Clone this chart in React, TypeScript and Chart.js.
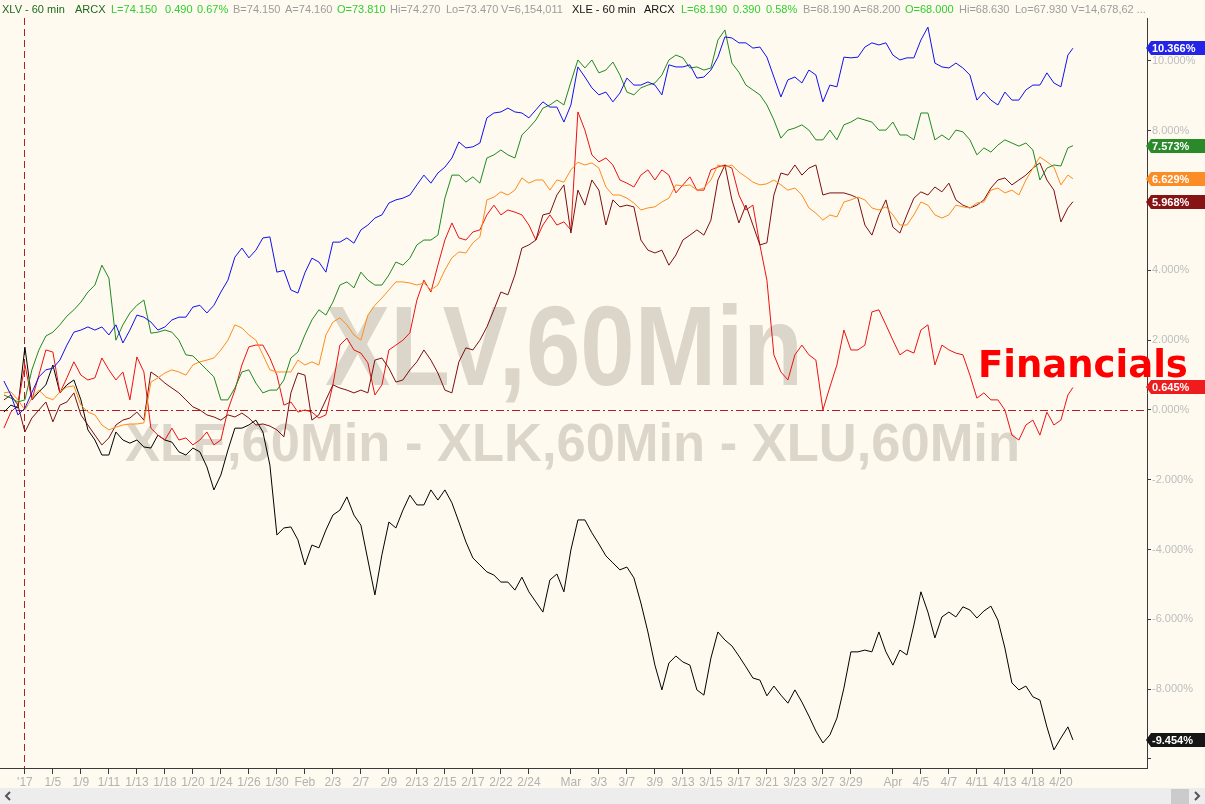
import React, { useEffect, useRef } from "react";
import { Chart, registerables } from "chart.js";

Chart.register(...registerables);

// ---------- time axis (trading-day index, Jan 3 2017 = 0) ----------
const START_DAY = -1.5;
const STEP_DAY = 0.5;
const SAMPLE_COUNT = 153;
const LAST_DAY = 74.86;
const sessionDays: number[] = Array.from({ length: SAMPLE_COUNT }, (_, k) => START_DAY + STEP_DAY * k).concat([LAST_DAY]);

const tickDays = [0, 2, 4, 6, 8, 10, 12, 14, 16, 18, 20, 22, 24, 26, 28, 30, 32, 34, 36, 39, 41, 43, 45, 47, 49, 51, 53, 55, 57, 59, 62, 64, 66, 68, 70, 72, 74];
const tickLabels = ["'17", "1/5", "1/9", "1/11", "1/13", "1/18", "1/20", "1/24", "1/26", "1/30", "Feb", "2/3", "2/7", "2/9", "2/13", "2/15", "2/17", "2/22", "2/24", "Mar", "3/3", "3/7", "3/9", "3/13", "3/15", "3/17", "3/21", "3/23", "3/27", "3/29", "Apr", "4/5", "4/7", "4/11", "4/13", "4/18", "4/20"];
const yTickValues = [-10, -8, -6, -4, -2, 0, 2, 4, 6, 8, 10];
const yearStartDay = -0.08;

// ---------- series (% change) ----------
const xlkBlue = [0.83, 0.43, -0.14, 0.05, 0.5, 0.95, 1.15, 1.2, 1.43, 1.86, 2.23, 2.29, 2.38, 2.29, 2.38, 2.15, 2.44, 1.92, 2.29, 2.72, 2.66, 2.52, 2.29, 2.38, 2.58, 2.66, 2.66, 2.95, 3.0, 2.78, 3.0, 3.38, 3.72, 4.38, 4.64, 4.36, 4.58, 4.93, 4.96, 3.95, 4.0, 3.44, 3.35, 3.93, 4.35, 4.24, 3.95, 4.81, 4.81, 4.93, 4.78, 5.16, 5.3, 5.5, 5.59, 5.93, 6.02, 6.07, 6.16, 6.45, 6.73, 6.5, 6.79, 6.96, 7.22, 7.68, 7.51, 7.54, 7.65, 8.37, 8.51, 8.54, 8.65, 8.54, 8.51, 8.37, 8.6, 8.83, 8.68, 8.68, 8.25, 8.74, 9.83, 9.54, 9.23, 9.03, 9.11, 8.83, 9.08, 9.51, 9.31, 9.31, 9.4, 9.31, 9.03, 9.89, 9.83, 9.83, 9.89, 9.51, 9.54, 9.74, 10.11, 10.69, 10.66, 10.52, 10.52, 10.37, 10.4, 10.11, 9.54, 8.97, 9.46, 9.54, 9.37, 9.74, 9.6, 8.83, 9.31, 9.26, 10.11, 10.09, 10.11, 10.4, 10.52, 10.46, 10.52, 10.17, 10.03, 10.09, 10.09, 10.6, 10.97, 9.94, 9.83, 9.8, 9.94, 9.8, 9.6, 8.88, 9.11, 8.88, 8.74, 9.11, 8.88, 8.88, 9.17, 9.31, 9.31, 9.66, 9.37, 9.26, 10.17, 10.366];
const xlvGreen = [0.43, 0.34, 0.23, 0.29, 1.15, 1.72, 2.12, 2.23, 2.44, 2.69, 2.87, 3.09, 3.38, 3.58, 4.15, 3.78, 2.0, 2.44, 2.78, 3.0, 3.15, 2.2, 2.23, 2.29, 2.23, 2.0, 1.58, 1.55, 1.35, 1.15, 0.95, 0.29, 0.29, 0.63, 1.09, 1.15, 0.77, 0.49, 0.57, 0.57, 0.86, 1.49, 1.66, 2.15, 2.58, 2.87, 2.72, 3.09, 3.58, 3.67, 3.5, 3.95, 3.72, 3.58, 3.58, 3.87, 4.24, 4.15, 4.35, 4.73, 4.87, 4.87, 5.01, 6.07, 6.73, 6.73, 6.53, 6.68, 6.5, 7.22, 7.31, 7.45, 7.31, 7.22, 7.88, 8.08, 8.31, 8.65, 8.74, 8.88, 8.74, 9.4, 10.03, 9.8, 10.03, 9.66, 9.74, 9.97, 9.6, 9.11, 9.03, 9.23, 9.31, 9.37, 9.6, 10.03, 10.17, 10.09, 9.8, 9.83, 9.74, 9.8, 10.6, 10.89, 9.94, 9.68, 9.31, 9.17, 9.03, 8.74, 8.31, 7.79, 8.02, 8.08, 8.17, 8.02, 7.74, 7.74, 8.02, 7.74, 8.17, 8.25, 8.37, 8.31, 8.25, 8.02, 8.02, 8.25, 7.88, 7.88, 7.74, 8.51, 8.51, 7.74, 7.88, 7.74, 8.02, 7.97, 7.74, 7.31, 7.51, 7.39, 7.59, 7.74, 7.65, 7.56, 7.65, 7.45, 6.59, 6.93, 7.02, 6.99, 7.51, 7.573];
const xluOrange = [0.49, 0.52, 0.29, 0, 0.34, 0.57, 0.37, 0.29, 0.52, 0.66, 0.69, 0.14, -0.06, -0.14, -0.43, -0.57, -0.49, -0.43, -0.4, -0.4, -0.37, 0.8, 0.92, 1.06, 1.15, 1.09, 1.0, 1.29, 1.38, 1.43, 1.49, 1.72, 2.0, 2.44, 2.35, 2.15, 2.0, 1.58, 1.15, 1.09, 1.09, 1.09, 1.43, 1.29, 1.38, 1.29, 2.15, 2.52, 2.64, 2.44, 2.15, 2.0, 2.72, 3.0, 3.21, 3.44, 3.67, 3.67, 3.64, 3.58, 3.64, 3.44, 3.58, 4.01, 4.36, 4.53, 4.5, 4.79, 4.96, 6.02, 6.1, 6.25, 6.16, 6.3, 6.65, 6.5, 6.59, 6.59, 6.3, 6.59, 6.53, 6.88, 7.1, 7.02, 7.08, 6.93, 6.39, 6.16, 6.16, 6.07, 5.93, 5.73, 5.79, 5.82, 5.96, 6.07, 6.45, 6.42, 6.45, 6.3, 6.36, 6.59, 7.02, 6.96, 7.02, 6.82, 6.68, 6.53, 6.45, 6.48, 6.59, 6.45, 6.3, 6.36, 6.16, 5.79, 5.64, 5.44, 5.59, 5.53, 5.96, 6.02, 6.1, 6.02, 5.79, 5.73, 5.82, 5.59, 5.3, 5.3, 5.59, 5.96, 5.87, 5.59, 5.5, 5.59, 5.87, 5.82, 5.79, 5.93, 5.96, 6.3, 6.36, 6.22, 6.3, 6.16, 6.59, 6.93, 7.25, 7.11, 6.96, 6.45, 6.73, 6.629];
const xliMaroon = [0.29, 0.43, 0.14, -0.63, -0.23, 0, 0.23, -0.34, 0.14, 0.23, 0.49, -0.14, -0.43, -0.72, -1.0, -0.8, -0.43, -0.29, -0.23, -0.06, -0.29, 1.09, 0.95, 0.77, 0.63, 0.49, 0.29, 0.09, 0, -0.14, -0.2, -0.29, -0.14, -0.2, -0.09, -0.23, -0.43, -0.4, -0.46, -0.57, -0.77, 0.49, 1.06, 1.0, -0.29, -0.14, 0.29, 0.72, 0.63, 0.57, 0.49, 0.57, 0.49, 1.43, 1.49, 1.2, 0.8, 0.86, 1.15, 1.38, 1.72, 1.43, 1.06, 0.57, 0.49, 1.38, 1.78, 1.72, 2.0, 2.38, 2.87, 3.38, 3.3, 3.87, 4.64, 4.73, 4.87, 5.59, 5.64, 6.16, 6.45, 5.07, 6.3, 5.87, 6.59, 6.3, 5.3, 6.02, 5.82, 5.87, 5.82, 4.87, 4.58, 4.5, 4.58, 4.15, 4.44, 4.87, 5.01, 5.16, 5.01, 5.44, 6.59, 7.02, 6.02, 5.36, 5.87, 5.3, 4.73, 4.79, 6.16, 6.79, 6.73, 7.02, 6.73, 6.93, 7.02, 6.16, 6.22, 6.22, 6.22, 6.16, 6.07, 5.3, 5.01, 5.59, 6.02, 5.24, 5.07, 5.59, 6.07, 6.25, 6.16, 6.39, 6.25, 6.5, 6.02, 5.87, 5.79, 5.87, 6.02, 6.36, 6.59, 6.65, 6.45, 6.59, 6.73, 6.93, 7.08, 6.59, 6.3, 5.39, 5.79, 5.968];
const xlfRed = [-0.52, -0.06, 0.14, 1.3, 0.29, 1.0, 1.72, 1.66, 0.49, 0.92, 1.38, 1.0, 0.86, 0.92, 1.49, 1.15, 0.86, 1.09, 0.29, 1.52, 1.09, -0.52, -0.72, -0.86, -0.52, -0.86, -0.8, -1.0, -0.86, -0.63, -1.0, -0.86, 0, 0.57, 1.29, 1.81, 1.86, 1.86, 1.49, 1.0, 0.14, 0.23, -0.06, 0, -0.06, -0.23, -0.14, 0.72, 1.86, 2.06, 1.72, 1.63, 1.35, 0.43, 0.72, 1.72, 1.86, 2.0, 2.21, 3.15, 3.72, 3.38, 4.15, 4.87, 5.36, 4.93, 4.87, 5.1, 5.16, 5.59, 5.87, 5.59, 5.73, 5.67, 5.59, 5.3, 4.87, 5.3, 5.59, 5.3, 5.39, 5.16, 8.54, 8.02, 7.31, 7.11, 7.22, 7.02, 6.59, 6.5, 6.39, 6.73, 6.88, 6.59, 6.88, 6.73, 6.22, 6.45, 6.68, 6.3, 6.3, 6.88, 6.96, 7.02, 6.93, 6.16, 5.73, 5.87, 4.73, 3.72, 1.58, 1.09, 0.86, 1.58, 1.86, 1.58, 1.43, 0.0, 0.66, 1.29, 2.29, 1.72, 1.72, 1.86, 2.81, 2.87, 2.44, 2.0, 1.58, 1.72, 1.63, 2.29, 2.44, 1.29, 1.86, 1.72, 1.63, 1.58, 1.0, 0.34, 0.49, 0.29, 0.29, 0, -0.72, -0.86, -0.43, -0.29, -0.72, -0.06, -0.43, -0.29, 0.43, 0.645];
const xleBlack = [-0.06, 0.14, 0.06, 1.8, 0.29, 0.52, 0.72, 1.29, 0.49, 0.72, 0.86, 0.29, -0.57, -0.86, -1.29, -1.29, -0.63, -0.86, -0.95, -0.86, -1.06, -1.09, -0.72, -0.86, -0.92, -1.2, -1.29, -1.09, -1.2, -1.63, -2.29, -1.86, -1.15, -0.52, -0.52, -0.43, -0.29, -0.63, -1.58, -3.58, -3.38, -3.35, -3.72, -4.44, -3.87, -3.95, -3.44, -3.01, -2.87, -2.49, -3.01, -3.3, -4.3, -5.3, -4.15, -3.21, -3.38, -2.87, -2.44, -2.72, -2.72, -2.29, -2.58, -2.29, -2.66, -3.21, -3.78, -4.24, -4.44, -4.64, -4.73, -4.93, -4.93, -5.16, -4.79, -5.21, -5.5, -5.79, -4.87, -4.7, -5.21, -4.01, -3.15, -3.15, -3.52, -3.84, -4.18, -4.38, -4.58, -4.5, -4.81, -5.53, -6.36, -7.31, -8.02, -7.25, -7.05, -7.22, -7.31, -8.02, -8.17, -7.11, -6.36, -6.59, -6.76, -7.05, -7.36, -7.68, -7.74, -8.19, -7.91, -8.17, -8.4, -8.02, -8.37, -8.77, -9.2, -9.54, -9.31, -8.83, -7.97, -6.93, -6.93, -6.88, -6.93, -6.36, -6.93, -7.31, -6.88, -7.02, -6.16, -5.21, -5.79, -6.53, -5.93, -5.79, -5.93, -5.64, -5.73, -5.96, -5.76, -5.62, -6.02, -6.82, -7.82, -8.02, -7.91, -8.22, -8.31, -9.08, -9.74, -9.4, -9.08, -9.454];

const seriesNames = ["XLK", "XLV", "XLU", "XLI", "XLF", "XLE"];
const seriesValues = [xlkBlue, xlvGreen, xluOrange, xliMaroon, xlfRed, xleBlack];
const lineColors = ["#1010ee", "#1f8a1f", "#ff8c1a", "#7d0f0f", "#ee1111", "#000000"];
const boxColors = ["#2424e6", "#2a8a2a", "#fb8c26", "#861414", "#ee1c1c", "#161616"];

// ---------- header text ----------
const headerTexts = ["XLV - 60 min", "ARCX", "L=74.150", "0.490", "0.67%", "B=74.150", "A=74.160", "O=73.810", "Hi=74.270", "Lo=73.470", "V=6,154,011", "XLE - 60 min", "ARCX", "L=68.190", "0.390", "0.58%", "B=68.190", "A=68.200", "O=68.000", "Hi=68.630", "Lo=67.930", "V=14,678,62 ..."];
const headerKinds = ["title1", "title1", "up", "up", "up", "info", "info", "up", "info", "info", "info", "title2", "title2", "up", "up", "up", "info", "info", "up", "info", "info", "info"];
const headerX = [2, 75, 111, 165, 197, 233, 285, 337, 390, 446, 501, 572, 644, 681, 733, 766, 803, 853, 905, 959, 1015, 1071];
const headerColors: Record<string, string> = { title1: "#1d6a1d", title2: "#111111", up: "#2fcf2f", info: "#9c9c9c" };

const watermarkMain = "XLV,60Min";
const watermarkSub = "XLE,60Min - XLK,60Min - XLU,60Min";
const calloutText = "Financials";

// ---------- layout ----------
const W = 1205;
const H = 804;
const X_MIN = -1.779;
const X_MAX = 80.15;
const Y_MIN = -10.258;
const Y_MAX = 11.232;
const BG = "#fefaf0";

const decorPlugin = {
  id: "decor",
  beforeDraw(chart: any) {
    const ctx = chart.ctx;
    ctx.save();
    ctx.fillStyle = BG;
    ctx.fillRect(0, 0, W, H);
    ctx.restore();
  },
  beforeDatasetsDraw(chart: any) {
    const ctx = chart.ctx;
    const ca = chart.chartArea;
    const xs = chart.scales.x;
    const ys = chart.scales.y;
    ctx.save();
    // watermarks
    ctx.fillStyle = "#dbd6c9";
    ctx.textBaseline = "alphabetic";
    ctx.font = "bold 114px 'Liberation Sans', Arial, sans-serif";
    const mw = ctx.measureText(watermarkMain).width;
    ctx.save();
    ctx.translate(325, 385);
    ctx.scale(478 / mw, 1);
    ctx.fillText(watermarkMain, 0, 0);
    ctx.restore();
    ctx.font = "bold 53px 'Liberation Sans', Arial, sans-serif";
    const sw = ctx.measureText(watermarkSub).width;
    ctx.save();
    ctx.translate(125, 461);
    ctx.scale(895 / sw, 1);
    ctx.fillText(watermarkSub, 0, 0);
    ctx.restore();

    // zero line (dash-dot)
    const y0 = Math.round(ys.getPixelForValue(0)) + 0.5;
    ctx.strokeStyle = "#b02020";
    ctx.lineWidth = 1;
    ctx.setLineDash([8, 3, 2, 3]);
    ctx.beginPath();
    ctx.moveTo(ca.left, y0);
    ctx.lineTo(ca.right, y0);
    ctx.stroke();
    // year start vertical dashed line
    const vx = Math.round(xs.getPixelForValue(yearStartDay)) + 0.5;
    ctx.setLineDash([7, 4]);
    ctx.beginPath();
    ctx.moveTo(vx, ca.top);
    ctx.lineTo(vx, ca.bottom);
    ctx.stroke();
    ctx.restore();
  },
  afterDraw(chart: any) {
    const ctx = chart.ctx;
    const ys = chart.scales.y;
    const ca = chart.chartArea;
    ctx.save();
    // header
    ctx.font = "11px 'Liberation Sans', Arial, sans-serif";
    ctx.textBaseline = "middle";
    ctx.textAlign = "left";
    headerTexts.forEach((t, i) => {
      ctx.fillStyle = headerColors[headerKinds[i]];
      ctx.fillText(t, headerX[i], 9.5);
    });
    // callout
    ctx.font = "bold 37px 'DejaVu Sans', Verdana, sans-serif";
    ctx.fillStyle = "#ff0000";
    ctx.textBaseline = "alphabetic";
    ctx.fillText(calloutText, 978, 377);

    // right value labels
    ctx.font = "bold 11px 'Liberation Sans', Arial, sans-serif";
    ctx.textBaseline = "middle";
    seriesValues.forEach((vals, i) => {
      const v = vals[vals.length - 1];
      const y = Math.round(ys.getPixelForValue(v));
      const x0 = ca.right;
      ctx.fillStyle = boxColors[i];
      ctx.beginPath();
      ctx.moveTo(x0 - 1, y);
      ctx.lineTo(x0 + 4, y - 7);
      ctx.lineTo(W, y - 7);
      ctx.lineTo(W, y + 7);
      ctx.lineTo(x0 + 4, y + 7);
      ctx.closePath();
      ctx.fill();
      ctx.fillStyle = "#ffffff";
      ctx.fillText(v.toFixed(3) + "%", x0 + 5, y + 0.5);
    });

    // scrollbar
    ctx.fillStyle = "#ededed";
    ctx.fillRect(0, 788, W, H - 788);
    ctx.fillStyle = "#cbcbcb";
    ctx.fillRect(1171, 789, 18, 15);
    ctx.strokeStyle = "#555555";
    ctx.lineWidth = 2;
    ctx.setLineDash([]);
    ctx.beginPath();
    ctx.moveTo(10, 792);
    ctx.lineTo(6, 796);
    ctx.lineTo(10, 800);
    ctx.stroke();
    ctx.beginPath();
    ctx.moveTo(1195, 792);
    ctx.lineTo(1199, 796);
    ctx.lineTo(1195, 800);
    ctx.stroke();
    ctx.restore();
  },
};

export default function App() {
  const ref = useRef<HTMLCanvasElement>(null);
  useEffect(() => {
    document.body.style.margin = "0";
    Chart.defaults.font.family = "'Liberation Sans', Arial, sans-serif";
    const datasets = seriesValues.map((vals, i) => ({
      label: seriesNames[i],
      data: vals.map((v, k) => ({ x: sessionDays[k], y: v })),
      borderColor: lineColors[i],
      backgroundColor: lineColors[i],
      borderWidth: 1,
      pointRadius: 0,
      tension: 0,
      fill: false,
    }));
    const chart = new Chart(ref.current as HTMLCanvasElement, {
      type: "line",
      data: { datasets },
      plugins: [decorPlugin],
      options: {
        animation: false,
        responsive: false,
        devicePixelRatio: 1,
        layout: { padding: { top: 18, left: 0, right: 0, bottom: 0 } },
        plugins: { legend: { display: false }, tooltip: { enabled: false } },
        scales: {
          x: {
            type: "linear",
            min: X_MIN,
            max: X_MAX,
            afterBuildTicks: (s: any) => {
              s.ticks = tickDays.map((v) => ({ value: v }));
            },
            afterFit: (s: any) => {
              s.height = 36;
            },
            ticks: {
              autoSkip: false,
              maxRotation: 0,
              minRotation: 0,
              color: "#b2b2b2",
              font: { size: 12 },
              padding: 1,
              callback: (_v: any, i: number) => tickLabels[i],
            },
            grid: { drawOnChartArea: false, drawTicks: true, tickLength: 6, color: "#3a3a3a" },
            border: { color: "#3a3a3a", width: 1 },
          },
          y: {
            type: "linear",
            position: "right",
            min: Y_MIN,
            max: Y_MAX,
            afterBuildTicks: (s: any) => {
              s.ticks = yTickValues.map((v) => ({ value: v }));
            },
            afterFit: (s: any) => {
              s.width = W - 1147;
            },
            ticks: {
              color: "#bdbdbd",
              font: { size: 11 },
              padding: 1,
              callback: (v: any) => (Number(v) === -10 ? "" : Number(v).toFixed(3) + "%"),
            },
            grid: { drawOnChartArea: false, drawTicks: true, tickLength: 4, color: "#3a3a3a" },
            border: { color: "#3a3a3a", width: 1 },
          },
        },
      } as any,
    });
    return () => chart.destroy();
  }, []);
  return (
    <div style={{ width: W, height: H, position: "relative", overflow: "hidden" }}>
      <canvas ref={ref} width={W} height={H} style={{ display: "block", width: W, height: H }} />
    </div>
  );
}
